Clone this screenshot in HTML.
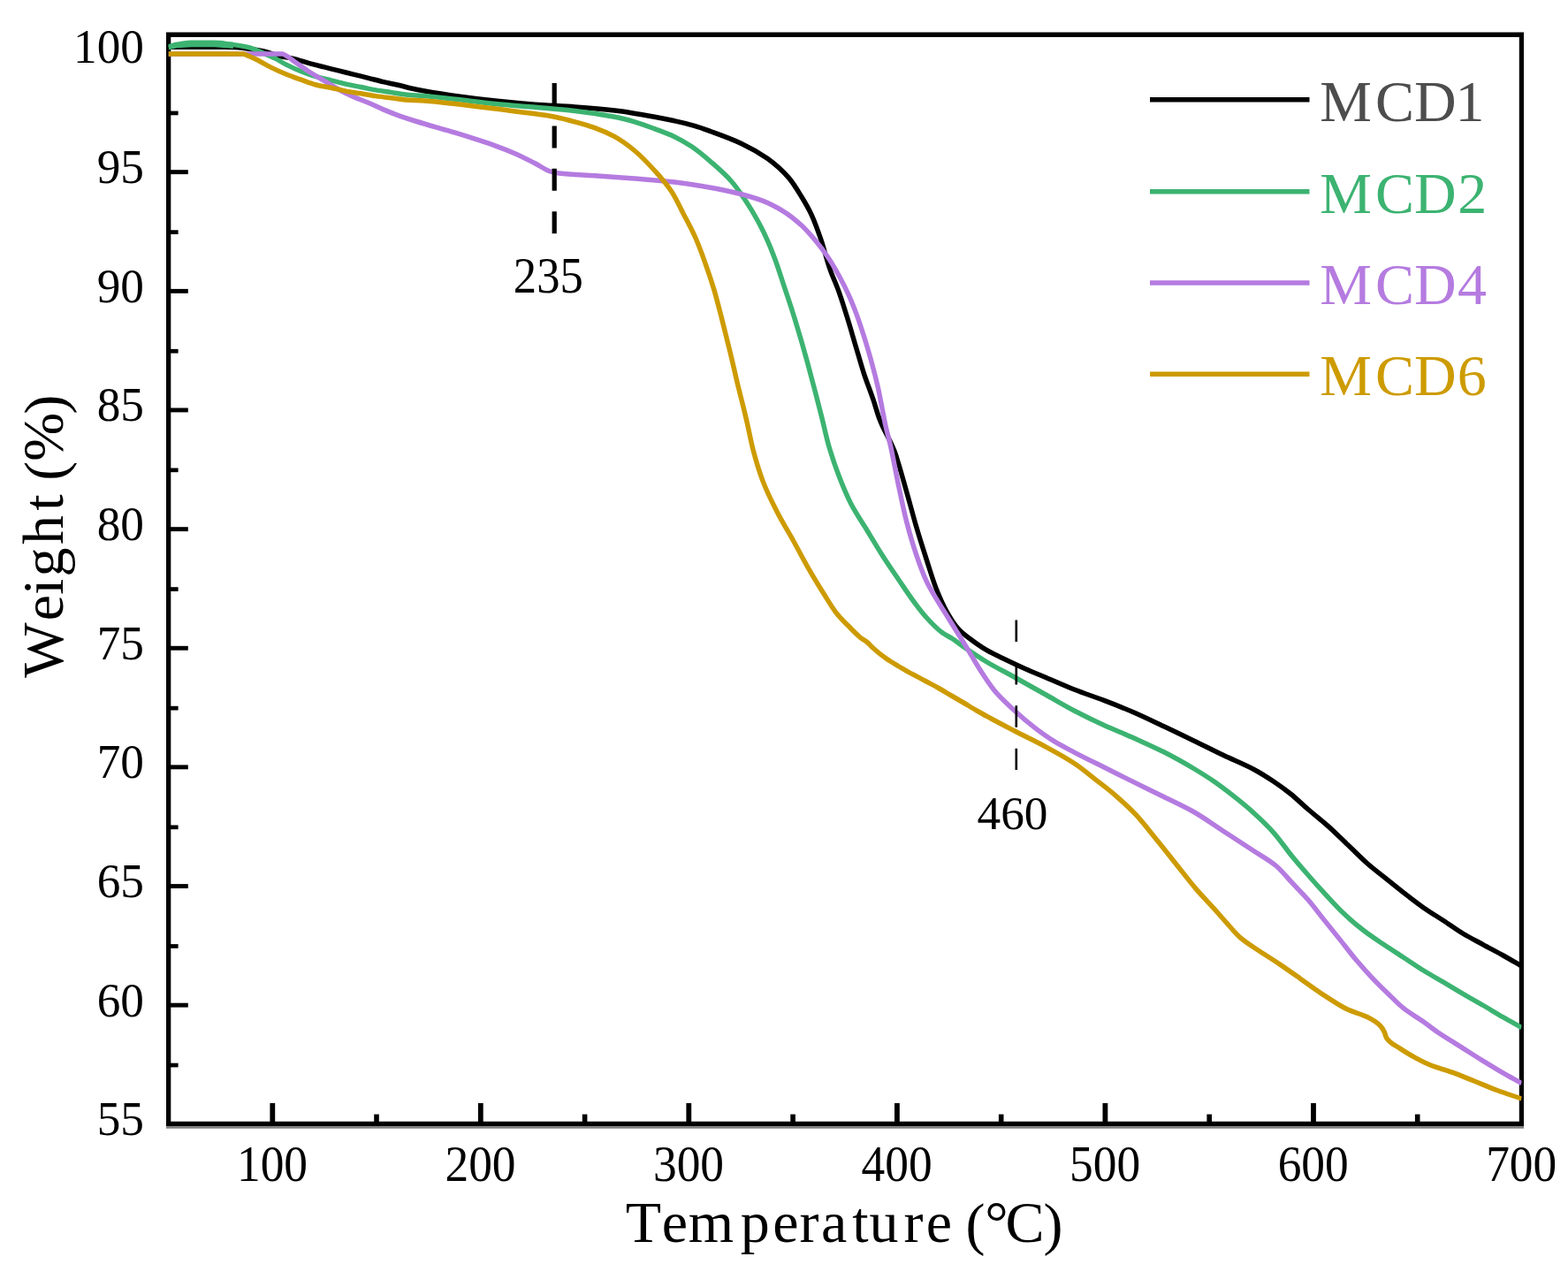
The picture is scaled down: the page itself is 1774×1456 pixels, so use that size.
<!DOCTYPE html>
<html lang="en"><head><meta charset="utf-8"><title>TGA curves</title>
<style>html,body{margin:0;padding:0;background:#fff;}body{width:1774px;height:1456px;overflow:hidden;}svg{display:block;}text{font-family:"Liberation Serif","DejaVu Serif",serif;}</style></head><body>
<svg width="1774" height="1456" viewBox="0 0 1774 1456">
<rect x="0" y="0" width="1774" height="1456" fill="#ffffff"/>
<path fill="#000" fill-rule="evenodd" d="M188,36.5H1724V1274.1H188ZM193.3,41.9V1268.7H1718.8V41.9Z"/>
<rect x="188" y="1274.1" width="1536" height="2.6" fill="#7d7d7d"/>
<g><rect x="305.4" y="1248" width="5.8" height="22" fill="#000"/><rect x="540.9" y="1248" width="5.8" height="22" fill="#000"/><rect x="776.4" y="1248" width="5.8" height="22" fill="#000"/><rect x="1012.0" y="1248" width="5.8" height="22" fill="#000"/><rect x="1247.5" y="1248" width="5.8" height="22" fill="#000"/><rect x="1483.1" y="1248" width="5.8" height="22" fill="#000"/><rect x="423.2" y="1260.6" width="5.6" height="9" fill="#000"/><rect x="658.8" y="1260.6" width="5.6" height="9" fill="#000"/><rect x="894.3" y="1260.6" width="5.6" height="9" fill="#000"/><rect x="1129.9" y="1260.6" width="5.6" height="9" fill="#000"/><rect x="1365.4" y="1260.6" width="5.6" height="9" fill="#000"/><rect x="1600.9" y="1260.6" width="5.6" height="9" fill="#000"/><rect x="192" y="1134.7" width="20.8" height="4.9" fill="#000"/><rect x="192" y="1000.1" width="20.8" height="4.9" fill="#000"/><rect x="192" y="865.4" width="20.8" height="4.9" fill="#000"/><rect x="192" y="730.8" width="20.8" height="4.9" fill="#000"/><rect x="192" y="596.2" width="20.8" height="4.9" fill="#000"/><rect x="192" y="461.5" width="20.8" height="4.9" fill="#000"/><rect x="192" y="326.9" width="20.8" height="4.9" fill="#000"/><rect x="192" y="192.2" width="20.8" height="4.9" fill="#000"/><rect x="192" y="1202.7" width="9.6" height="4.7" fill="#000"/><rect x="192" y="1068.1" width="9.6" height="4.7" fill="#000"/><rect x="192" y="933.5" width="9.6" height="4.7" fill="#000"/><rect x="192" y="798.8" width="9.6" height="4.7" fill="#000"/><rect x="192" y="664.2" width="9.6" height="4.7" fill="#000"/><rect x="192" y="529.5" width="9.6" height="4.7" fill="#000"/><rect x="192" y="394.9" width="9.6" height="4.7" fill="#000"/><rect x="192" y="260.3" width="9.6" height="4.7" fill="#000"/><rect x="192" y="125.6" width="9.6" height="4.7" fill="#000"/></g>
<clipPath id="c"><rect x="190.5" y="39.2" width="1531.0" height="1232.6"/></clipPath>
<g clip-path="url(#c)" fill="none" stroke-linejoin="round" stroke-linecap="butt">
<path d="M190.5,53.2C203.7,53.2 216.8,53.2 230.0,53.2C241.5,53.2 253.1,53.3 264.6,53.4C269.7,53.5 274.9,54.4 280.0,55.0C286.1,55.8 292.3,56.7 298.4,58.0C304.0,59.2 309.7,62.0 315.3,63.3C320.9,64.6 326.6,65.1 332.2,66.4C337.8,67.7 343.5,69.9 349.1,71.4C354.7,72.9 360.4,74.3 366.0,75.7C371.6,77.1 377.3,78.5 382.9,79.9C388.5,81.3 394.2,82.7 399.8,84.1C405.5,85.5 411.1,86.9 416.8,88.3C422.4,89.7 428.1,91.3 433.7,92.6C439.3,93.9 445.0,95.0 450.6,96.3C457.1,97.8 463.5,99.7 470.0,101.0C485.0,104.0 500.1,106.4 515.1,108.5C530.1,110.6 545.2,112.5 560.2,114.1C575.2,115.7 590.3,117.1 605.3,118.2C620.3,119.3 635.4,119.8 650.4,120.9C665.4,122.0 680.5,123.2 695.5,124.9C710.5,126.6 725.6,129.4 740.6,132.2C755.6,135.0 770.7,138.1 785.7,142.3C792.2,144.1 798.6,146.6 805.1,149.0C816.4,153.1 827.6,157.1 838.9,162.4C848.7,167.0 858.4,172.4 868.2,179.3C876.5,185.2 884.7,192.3 893.0,201.9C897.5,207.2 902.1,214.8 906.6,222.2C910.3,228.3 914.1,234.4 917.8,242.4C921.6,250.4 925.3,260.8 929.1,271.8C932.3,281.1 935.4,294.1 938.6,303.3C942.1,313.5 945.7,320.5 949.2,330.4C952.6,339.9 956.0,351.0 959.4,362.0C962.5,372.0 965.6,383.1 968.7,393.5C971.6,403.3 974.6,413.9 977.5,422.8C981.0,433.5 984.5,441.7 988.0,452.1C990.3,459.0 992.7,467.9 995.0,474.0C1000.7,488.8 1006.3,495.6 1012.0,510.6C1016.5,522.5 1021.0,540.1 1025.5,555.7C1029.3,568.8 1033.0,583.5 1036.8,596.3C1040.5,609.0 1044.3,620.7 1048.0,632.3C1051.8,644.0 1055.5,656.7 1059.3,666.2C1063.1,675.7 1066.8,684.2 1070.6,691.0C1075.1,699.1 1079.6,706.4 1084.1,711.3C1088.6,716.2 1093.1,719.4 1097.6,722.8C1103.6,727.4 1109.7,731.7 1115.7,735.2C1123.2,739.6 1130.7,742.9 1138.2,746.5C1145.7,750.1 1153.3,753.7 1160.8,757.0C1168.3,760.3 1175.8,763.3 1183.3,766.5C1194.0,771.0 1204.6,775.8 1215.3,780.0C1226.6,784.4 1237.8,788.1 1249.1,792.4C1260.4,796.7 1271.6,801.1 1282.9,806.0C1294.2,810.9 1305.5,816.5 1316.8,821.8C1328.1,827.1 1339.3,832.5 1350.6,837.9C1361.9,843.3 1373.1,849.1 1384.4,854.5C1395.7,859.9 1406.9,864.2 1418.2,870.2C1425.7,874.2 1433.3,879.0 1440.8,884.0C1447.2,888.3 1453.6,892.9 1460.0,898.0C1466.6,903.3 1473.2,909.8 1479.8,915.5C1487.3,922.0 1494.8,927.7 1502.3,934.4C1509.8,941.1 1517.4,948.7 1524.9,955.8C1532.4,962.9 1539.9,970.6 1547.4,977.2C1553.4,982.5 1559.5,987.0 1565.5,991.9C1573.0,997.9 1580.5,1004.1 1588.0,1009.9C1595.5,1015.7 1603.1,1021.7 1610.6,1026.9C1618.1,1032.1 1625.6,1036.6 1633.1,1041.5C1640.6,1046.4 1648.2,1052.0 1655.7,1056.5C1663.2,1061.0 1670.7,1064.7 1678.2,1068.8C1685.7,1072.9 1693.3,1076.8 1700.8,1081.0C1707.7,1084.9 1714.6,1089.0 1721.5,1093.0" stroke="#000000" stroke-width="5.5"/>
<path d="M190.5,52.8C193.8,52.0 197.0,50.9 200.3,50.3C205.4,49.4 210.4,48.3 215.5,48.3C224.5,48.3 233.6,48.3 242.6,48.3C249.9,48.3 257.3,49.6 264.6,50.6C270.2,51.4 275.9,52.3 281.5,53.7C287.1,55.1 292.8,58.0 298.4,60.4C302.9,62.3 307.4,64.2 311.9,66.4C315.9,68.4 319.8,71.1 323.8,73.1C329.4,75.9 335.1,78.5 340.7,80.7C346.3,82.9 352.0,85.1 357.6,86.7C363.2,88.3 368.9,89.5 374.5,90.9C380.1,92.3 385.8,93.8 391.4,95.1C397.0,96.4 402.7,97.4 408.3,98.5C413.9,99.6 419.6,100.9 425.2,101.9C430.8,102.9 436.5,103.6 442.1,104.4C447.7,105.2 453.4,106.4 459.0,107.0C466.0,107.7 473.0,108.0 480.0,108.6C491.7,109.6 503.4,111.0 515.1,112.3C530.1,114.0 545.2,116.0 560.2,117.5C575.2,119.0 590.3,120.0 605.3,121.3C620.3,122.6 635.4,123.7 650.4,125.4C665.4,127.1 680.5,129.3 695.5,132.2C703.0,133.6 710.5,135.6 718.0,137.8C725.5,140.0 733.1,142.9 740.6,145.7C748.1,148.5 755.6,151.2 763.1,154.7C769.6,157.8 776.0,161.5 782.5,165.8C790.0,170.8 797.6,177.3 805.1,183.8C812.6,190.3 820.1,196.7 827.6,205.2C832.9,211.2 838.1,218.8 843.4,226.7C847.9,233.5 852.5,240.9 857.0,249.2C860.7,256.0 864.5,263.4 868.2,271.8C871.2,278.5 874.2,286.1 877.2,294.3C880.2,302.5 883.3,312.3 886.3,321.4C889.3,330.4 892.3,339.0 895.3,348.4C898.3,357.8 901.3,367.6 904.3,377.7C907.3,387.8 910.3,398.4 913.3,409.3C916.3,420.2 919.3,431.6 922.3,443.1C924.8,452.6 927.2,462.2 929.7,472.0C932.3,482.4 934.9,494.7 937.5,503.8C941.3,516.9 945.0,527.7 948.8,537.6C953.3,549.4 957.8,560.2 962.3,569.0C968.3,580.8 974.4,589.1 980.4,599.0C986.4,608.9 992.4,619.1 998.4,628.5C1004.4,637.9 1010.5,646.6 1016.5,655.5C1022.5,664.3 1028.5,673.5 1034.5,681.5C1039.0,687.5 1043.5,693.6 1048.0,698.5C1054.0,705.1 1060.1,711.4 1066.1,715.8C1069.8,718.5 1073.6,720.1 1077.3,722.5C1082.6,725.9 1087.8,730.2 1093.1,733.8C1100.6,738.9 1108.2,744.0 1115.7,748.5C1126.3,754.9 1137.0,760.1 1147.6,766.0C1158.9,772.3 1170.2,778.7 1181.5,785.0C1192.8,791.3 1204.0,798.1 1215.3,804.0C1226.6,809.9 1237.8,815.3 1249.1,820.4C1260.4,825.5 1271.6,829.9 1282.9,835.0C1294.2,840.1 1305.5,845.1 1316.8,850.8C1328.1,856.5 1339.3,862.8 1350.6,869.5C1358.1,874.0 1365.6,878.6 1373.1,883.8C1380.6,889.0 1388.2,894.8 1395.7,900.7C1403.2,906.6 1410.7,912.7 1418.2,919.5C1425.7,926.3 1433.3,933.4 1440.8,941.8C1448.3,950.2 1455.8,961.5 1463.3,970.6C1468.9,977.4 1474.4,983.7 1480.0,990.0C1485.9,996.8 1491.9,1003.5 1497.8,1009.9C1505.3,1018.1 1512.9,1026.5 1520.4,1033.6C1527.9,1040.7 1535.4,1047.0 1542.9,1052.8C1550.4,1058.6 1558.0,1063.5 1565.5,1068.6C1573.0,1073.6 1580.5,1078.3 1588.0,1083.2C1595.5,1088.1 1603.1,1093.3 1610.6,1098.0C1618.1,1102.6 1625.6,1106.8 1633.1,1111.2C1640.6,1115.7 1648.2,1120.3 1655.7,1124.7C1663.2,1129.1 1670.7,1133.1 1678.2,1137.5C1685.7,1141.9 1693.3,1146.6 1700.8,1150.9C1707.7,1154.9 1714.6,1158.6 1721.5,1162.5" stroke="#3cb371" stroke-width="5.5"/>
<path d="M190.5,53.6L200,51.6L216,50.4H243L264,52.2" stroke="#3cb371" stroke-width="5.5"/>
<path d="M190.5,61.3C203.3,61.3 216.2,61.3 229.0,61.3C245.3,61.3 261.7,61.3 278.0,61.2C285.3,61.2 292.7,61.0 300.0,61.0C306.5,61.0 313.0,61.0 319.5,61.0C320.8,61.0 322.2,62.1 323.5,62.8C326.4,64.3 329.3,66.9 332.2,68.9C337.8,72.8 343.5,77.1 349.1,80.7C354.7,84.3 360.4,87.5 366.0,90.9C371.6,94.3 377.3,97.9 382.9,101.0C388.5,104.1 394.2,107.0 399.8,109.5C405.5,112.0 411.1,113.9 416.8,116.3C422.4,118.7 428.1,121.5 433.7,123.9C439.3,126.3 445.0,128.6 450.6,130.6C457.1,132.9 463.5,135.0 470.0,137.0C485.0,141.7 500.1,145.6 515.1,150.2C530.1,154.8 545.2,159.4 560.2,164.8C567.7,167.5 575.2,170.4 582.7,173.7C590.2,177.0 597.8,181.0 605.3,184.8C611.3,187.8 617.3,192.6 623.3,194.2C626.3,195.0 629.4,195.7 632.4,196.0C645.9,197.5 659.4,197.8 672.9,198.7C687.9,199.7 703.0,200.8 718.0,202.0C733.0,203.2 748.1,204.4 763.1,206.1C773.3,207.3 783.6,208.8 793.8,210.5C805.1,212.3 816.3,214.4 827.6,217.0C838.9,219.6 850.2,222.5 861.5,226.7C869.8,229.8 878.0,234.0 886.3,239.1C893.1,243.2 899.8,248.7 906.6,254.8C911.8,259.6 917.1,265.6 922.3,271.8C926.8,277.2 931.4,283.1 935.9,289.8C940.4,296.4 944.9,304.1 949.4,312.3C953.2,319.2 956.9,326.5 960.7,334.9C963.7,341.6 966.7,349.2 969.7,357.4C972.7,365.6 975.7,374.9 978.7,384.5C981.3,393.0 984.0,401.9 986.6,411.6C988.9,420.0 991.1,428.5 993.4,438.6C994.9,445.3 996.4,453.6 997.9,461.2C999.3,468.1 1000.6,475.8 1002.0,482.0C1003.8,490.1 1005.6,495.9 1007.4,503.8C1010.4,517.2 1013.5,534.6 1016.5,548.9C1019.5,563.1 1022.5,577.8 1025.5,589.5C1029.3,604.2 1033.0,616.7 1036.8,627.8C1040.5,638.8 1044.3,649.1 1048.0,657.1C1051.8,665.1 1055.5,671.0 1059.3,677.4C1063.1,683.8 1066.8,689.5 1070.6,695.5C1074.3,701.5 1078.1,707.5 1081.8,713.5C1085.6,719.5 1089.3,725.4 1093.1,731.6C1097.8,739.2 1102.4,747.7 1107.1,755.0C1113.1,764.4 1119.1,774.0 1125.1,781.2C1132.6,790.2 1140.1,796.8 1147.6,803.7C1155.1,810.6 1162.7,817.1 1170.2,822.9C1177.7,828.7 1185.2,834.1 1192.7,838.7C1200.2,843.3 1207.8,847.1 1215.3,851.1C1226.6,857.0 1237.8,862.4 1249.1,868.0C1260.4,873.6 1271.6,879.3 1282.9,884.9C1294.2,890.5 1305.5,895.9 1316.8,901.5C1328.1,907.1 1339.3,912.1 1350.6,918.5C1361.9,924.9 1373.1,933.2 1384.4,940.5C1395.7,947.8 1406.9,955.1 1418.2,962.5C1426.7,968.1 1435.2,972.4 1443.7,979.5C1449.7,984.5 1455.8,992.3 1461.8,998.7C1467.8,1005.1 1473.8,1010.9 1479.8,1017.8C1485.8,1024.7 1491.8,1032.9 1497.8,1040.4C1503.8,1047.9 1509.9,1055.4 1515.9,1062.9C1521.9,1070.4 1527.9,1078.4 1533.9,1085.5C1539.9,1092.6 1546.0,1099.4 1552.0,1105.8C1558.0,1112.1 1564.0,1118.0 1570.0,1123.8C1576.0,1129.6 1582.0,1136.0 1588.0,1140.7C1595.5,1146.7 1603.1,1150.7 1610.6,1156.0C1615.8,1159.7 1621.0,1163.9 1626.2,1167.5C1634.7,1173.3 1643.1,1178.2 1651.6,1183.6C1660.0,1188.9 1668.5,1194.4 1676.9,1199.6C1685.4,1204.8 1693.8,1210.0 1702.3,1214.9C1708.7,1218.6 1715.1,1222.0 1721.5,1225.5" stroke="#b57be0" stroke-width="5.5"/>
<path d="M190.5,60.9C218.6,60.9 246.6,60.9 274.7,60.9C277.0,60.9 279.2,62.6 281.5,63.5C284.3,64.7 287.1,65.9 289.9,67.3C295.5,70.0 301.2,73.6 306.8,76.4C312.5,79.2 318.1,81.7 323.8,84.0C329.4,86.3 335.1,88.2 340.7,90.2C346.3,92.2 352.0,94.6 357.6,96.0C363.2,97.4 368.9,98.1 374.5,99.3C380.1,100.5 385.8,102.0 391.4,103.1C397.0,104.2 402.7,104.9 408.3,105.8C413.9,106.7 419.6,107.8 425.2,108.6C430.8,109.4 436.5,110.1 442.1,110.8C447.7,111.5 453.4,112.5 459.0,112.9C466.0,113.4 473.0,113.5 480.0,114.0C491.7,114.8 503.4,116.2 515.1,117.5C530.1,119.2 545.2,121.2 560.2,123.1C575.2,125.0 590.3,126.7 605.3,128.8C612.8,129.8 620.3,130.8 627.8,132.2C635.3,133.6 642.9,135.7 650.4,137.8C657.9,139.8 665.4,141.9 672.9,144.6C680.4,147.3 688.0,150.6 695.5,154.7C703.0,158.8 710.5,164.3 718.0,170.5C725.5,176.7 733.1,184.7 740.6,193.0C747.1,200.2 753.5,207.2 760.0,217.0C764.5,223.8 769.0,233.7 773.5,242.4C778.0,251.2 782.6,259.2 787.1,269.5C790.8,278.0 794.6,288.3 798.3,298.8C801.3,307.2 804.3,316.0 807.3,325.9C809.6,333.4 811.8,342.1 814.1,350.7C816.4,359.3 818.6,368.6 820.9,377.7C823.1,386.6 825.4,395.5 827.6,404.8C829.9,414.3 832.1,424.7 834.4,434.1C836.7,443.5 838.9,451.9 841.2,461.2C842.5,466.7 843.9,472.2 845.2,478.0C847.4,487.7 849.7,499.8 851.9,508.3C855.6,522.6 859.4,534.6 863.1,544.4C868.3,558.0 873.5,568.0 878.7,578.2C885.0,590.6 891.4,600.6 897.7,612.0C903.5,622.4 909.2,633.6 915.0,643.6C920.8,653.7 926.7,663.3 932.5,672.5C937.2,679.9 941.9,688.1 946.6,694.0C951.1,699.6 955.5,703.8 960.0,708.3C964.5,712.9 969.0,717.7 973.5,721.3C976.0,723.3 978.5,724.5 981.0,726.5C983.4,728.4 985.8,731.4 988.2,733.5C993.1,737.9 998.1,741.9 1003.0,745.3C1008.0,748.8 1013.0,751.5 1018.0,754.5C1022.8,757.3 1027.5,760.1 1032.3,762.7C1037.2,765.4 1042.1,767.9 1047.0,770.5C1052.0,773.2 1057.0,775.7 1062.0,778.5C1066.8,781.2 1071.6,784.2 1076.4,787.0C1081.3,789.9 1086.1,792.6 1091.0,795.5C1096.0,798.5 1101.0,801.6 1106.0,804.5C1110.8,807.3 1115.7,809.9 1120.5,812.5C1129.5,817.4 1138.6,822.1 1147.6,826.8C1158.9,832.7 1170.2,837.9 1181.5,844.0C1192.8,850.1 1204.0,856.1 1215.3,863.5C1223.5,868.9 1231.8,875.9 1240.0,882.3C1247.5,888.2 1255.0,893.8 1262.5,900.3C1270.0,906.8 1277.6,913.7 1285.1,921.7C1292.6,929.7 1300.1,939.6 1307.6,948.8C1315.1,958.0 1322.7,967.6 1330.2,977.0C1337.7,986.4 1345.2,996.3 1352.7,1005.1C1360.2,1013.9 1367.8,1021.5 1375.3,1029.9C1379.4,1034.5 1383.6,1039.4 1387.7,1044.0C1392.8,1049.7 1398.0,1056.3 1403.1,1060.7C1410.6,1067.2 1418.2,1071.4 1425.7,1076.5C1433.2,1081.5 1440.7,1086.1 1448.2,1091.1C1455.7,1096.2 1463.3,1101.6 1470.8,1106.9C1480.3,1113.6 1489.9,1120.7 1499.4,1126.9C1507.8,1132.3 1516.3,1138.2 1524.7,1142.1C1531.5,1145.2 1538.2,1146.5 1545.0,1149.7C1550.6,1152.4 1556.3,1155.0 1561.9,1160.7C1563.3,1162.1 1564.8,1164.6 1566.2,1167.5C1567.0,1169.2 1567.9,1173.1 1568.7,1174.3C1573.8,1181.4 1578.8,1182.7 1583.9,1186.1C1589.5,1189.9 1595.2,1193.2 1600.8,1196.3C1606.5,1199.4 1612.1,1202.4 1617.8,1204.7C1626.2,1208.1 1634.7,1210.1 1643.1,1213.2C1651.6,1216.3 1660.0,1219.9 1668.5,1223.3C1677.0,1226.7 1685.4,1230.4 1693.9,1233.5C1703.1,1236.9 1712.3,1239.8 1721.5,1243.0" stroke="#cd9b00" stroke-width="5.5"/>
</g>
<line x1="627.2" x2="627.2" y1="94" y2="264.5" stroke="#000" stroke-width="5.2" stroke-dasharray="25 23.4"/>
<line x1="1149.8" x2="1149.8" y1="701.5" y2="871" stroke="#000" stroke-width="2.6" stroke-dasharray="24.5 23.9"/>
<line x1="1301" x2="1481.5" y1="112.8" y2="112.8" stroke="#000000" stroke-width="5.6"/>
<text x="1493.3 1556.0 1600.0 1646.4" y="137.0" font-size="66" fill="#4d4d4d">MCD1</text>
<line x1="1301" x2="1481.5" y1="216.7" y2="216.7" stroke="#3cb371" stroke-width="5.6"/>
<text x="1493.3 1556.0 1600.0 1649.2" y="240.6" font-size="66" fill="#3cb371">MCD2</text>
<line x1="1301" x2="1481.5" y1="320.0" y2="320.0" stroke="#b57be0" stroke-width="5.6"/>
<text x="1493.3 1556.0 1600.0 1649.1" y="344.0" font-size="66" fill="#b57be0">MCD4</text>
<line x1="1301" x2="1481.5" y1="423.3" y2="423.3" stroke="#cd9b00" stroke-width="5.6"/>
<text x="1493.3 1556.0 1600.0 1648.8" y="447.3" font-size="66" fill="#cd9b00">MCD6</text>
<text x="308.0" y="1336.3" font-size="56.5" text-anchor="middle" textLength="80.1" lengthAdjust="spacingAndGlyphs">100</text>
<text x="543.5" y="1336.3" font-size="56.5" text-anchor="middle" textLength="80.1" lengthAdjust="spacingAndGlyphs">200</text>
<text x="779.0" y="1336.3" font-size="56.5" text-anchor="middle" textLength="80.1" lengthAdjust="spacingAndGlyphs">300</text>
<text x="1014.6" y="1336.3" font-size="56.5" text-anchor="middle" textLength="80.1" lengthAdjust="spacingAndGlyphs">400</text>
<text x="1250.1" y="1336.3" font-size="56.5" text-anchor="middle" textLength="80.1" lengthAdjust="spacingAndGlyphs">500</text>
<text x="1485.7" y="1336.3" font-size="56.5" text-anchor="middle" textLength="80.1" lengthAdjust="spacingAndGlyphs">600</text>
<text x="1721.2" y="1336.3" font-size="56.5" text-anchor="middle" textLength="80.1" lengthAdjust="spacingAndGlyphs">700</text>
<text x="162.9" y="1284.1" font-size="54" text-anchor="end" textLength="53.2" lengthAdjust="spacingAndGlyphs">55</text>
<text x="162.9" y="1149.5" font-size="54" text-anchor="end" textLength="53.2" lengthAdjust="spacingAndGlyphs">60</text>
<text x="162.9" y="1014.8" font-size="54" text-anchor="end" textLength="53.2" lengthAdjust="spacingAndGlyphs">65</text>
<text x="162.9" y="880.2" font-size="54" text-anchor="end" textLength="53.2" lengthAdjust="spacingAndGlyphs">70</text>
<text x="162.9" y="745.5" font-size="54" text-anchor="end" textLength="53.2" lengthAdjust="spacingAndGlyphs">75</text>
<text x="162.9" y="610.9" font-size="54" text-anchor="end" textLength="53.2" lengthAdjust="spacingAndGlyphs">80</text>
<text x="162.9" y="476.3" font-size="54" text-anchor="end" textLength="53.2" lengthAdjust="spacingAndGlyphs">85</text>
<text x="162.9" y="341.6" font-size="54" text-anchor="end" textLength="53.2" lengthAdjust="spacingAndGlyphs">90</text>
<text x="162.9" y="207.0" font-size="54" text-anchor="end" textLength="53.2" lengthAdjust="spacingAndGlyphs">95</text>
<text x="162.9" y="71.4" font-size="54" text-anchor="end" textLength="79.8" lengthAdjust="spacingAndGlyphs">100</text>
<text x="620.3" y="330.5" font-size="56" text-anchor="middle" textLength="79.0" lengthAdjust="spacingAndGlyphs">235</text>
<text x="1145.5" y="938" font-size="52.5" text-anchor="middle" textLength="80" lengthAdjust="spacingAndGlyphs">460</text>
<text x="707.8 748.7 778.7 837.8 874.2 904.6 929.1 964.2 983.6 1022.6 1047.7 1070.2 1092.6 1114.3 1137.5 1180.4" y="1404.7 1404.7 1404.7 1404.7 1404.7 1404.7 1404.7 1404.7 1404.7 1404.7 1404.7 1404.7 1406.9 1404.7 1404.7 1406.9" font-size="66">Temperature (°C)</text>
<text transform="translate(70.6,766.9) rotate(-90)" x="0.1 64.6 93.8 114.4 151.0 189.2 206.2 223.2 245.2 298.5" y="0 0 0 0 0 0 0 2.2 0 2.2" font-size="66">Weight (%)</text>
</svg></body></html>
